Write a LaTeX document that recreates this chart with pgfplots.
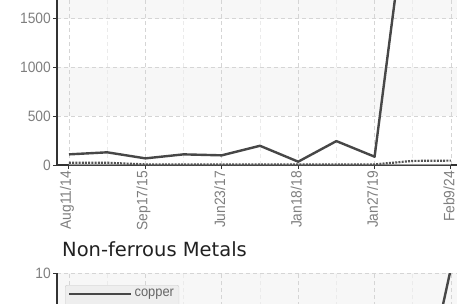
\documentclass[border=0pt]{standalone}
\usepackage{pgfplots}
\pgfplotsset{compat=1.18}
\usepackage{fontspec}
\setmainfont{Liberation Sans}
\newfontfamily\condfont[FakeStretch=0.92]{Liberation Sans}
\newfontfamily\titlefont{DejaVu Sans}
\definecolor{axisdark}{HTML}{333333}
\definecolor{ticktext}{HTML}{7E7E7E}
\definecolor{gridmaj}{HTML}{D5D5D5}
\definecolor{gridmin}{HTML}{EBEBEB}
\definecolor{band}{HTML}{F7F7F7}
\definecolor{seriesA}{HTML}{474747}
\definecolor{seriesB}{HTML}{555555}
\definecolor{seriesC}{HTML}{9A9A9A}
\definecolor{legfill}{HTML}{EEEEEE}
\definecolor{legdraw}{HTML}{CCCCCC}
\definecolor{legtext}{HTML}{666666}
\pgfplotsset{
  mystyle/.style={
    set layers,
    scale only axis,
    width=403pt,
    xmin=-0.314, xmax=10.236,
    axis lines*=left,
    axis line style={draw=axisdark, line width=1.2pt, -},
    xtick={0,2,...,10},
    minor xtick={1,3,...,9},
    xticklabels={Aug11/14,Sep17/15,Jun23/17,Jan18/18,Jan27/19,Feb9/24},
    tick align=outside,
    major tick length=4pt,
    minor tick length=0pt,
    tick style={draw=axisdark, line width=1pt},
    grid=both,
    major grid style={draw=gridmaj, dash pattern=on 4pt off 3pt, line width=0.9pt},
    minor grid style={draw=gridmin, dash pattern=on 4pt off 3pt, line width=0.9pt},
    tick label style={font=\fontsize{15pt}{17pt}\selectfont\condfont, text=ticktext},
    /pgf/number format/assume math mode=true,
    /pgf/number format/set thousands separator={},
    x tick label style={xshift=-2pt, rotate=90, anchor=east, inner sep=2pt},
    y tick label style={inner sep=2pt},
    clip=true,
  }
}
\begin{document}
\begin{tikzpicture}
% top chart
\begin{axis}[mystyle, at={(57pt,138pt)}, anchor=south west, height=165pt,
  ymin=0, ymax=1691, ytick={0,500,1000,1500,2000}]
\begin{pgfonlayer}{axis background}
\fill[band] (axis cs:-0.314,500) rectangle (axis cs:10.236,1000);
\fill[band] (axis cs:-0.314,1500) rectangle (axis cs:10.236,1691);
\end{pgfonlayer}
\addplot[color=seriesC, line width=1pt] coordinates {(0,4)(1,4)(2,4)(3,4)(4,4)(5,4)(6,4)(7,4)(8,4)(9,5)(10,5)};
\addplot[color=seriesB, line width=2.2pt, dash pattern=on 2pt off 1.2pt] coordinates {(0,23)(1,23)(2,6)(3,6)(4,6)(5,6)(6,6)(7,6)(8,6)(9,42)(10,45)};
\addplot[color=seriesA, line width=2.4pt, line join=round] coordinates {(0,109)(1,130)(2,68)(3,109)(4,99)(5,197)(6,34)(7,245)(8,85)(9,3115)(10,3000)};
\end{axis}
% bottom chart
\begin{axis}[mystyle, at={(57pt,-220pt)}, anchor=south west, height=250pt,
  ymin=0, ymax=10, ytick={0,2,...,10},
  title={Non-ferrous Metals},
  title style={font=\titlefont\fontsize{19.5pt}{22pt}\selectfont, text=black!87, at={(0,1)}, anchor=base west, xshift=5pt, yshift=11pt, inner sep=0pt},
  legend style={at={(0,1)}, anchor=north west, xshift=8pt, yshift=-12pt, fill=legfill, draw=legdraw, font=\condfont\fontsize{14pt}{16pt}\selectfont, text=legtext, rounded corners=2pt, inner xsep=3pt, inner ysep=2pt},
  legend cell align=left,
  legend image code/.code={\draw[#1] (0pt,0pt) -- (62pt,0pt);}]
\begin{pgfonlayer}{axis background}
\fill[band] (axis cs:-0.314,8) rectangle (axis cs:10.236,10);
\end{pgfonlayer}
\addplot[color=seriesA, line width=2.4pt, line join=round] coordinates {(0,3.0)(1,3.1)(2,2.4)(3,2.8)(4,3.0)(5,3.3)(6,3.1)(7,3.0)(8,2.9)(9,3.2)(10,10.2)};
\addlegendentry{copper}
\addlegendimage{empty legend}
\addlegendentry{}
\end{axis}
\pgfresetboundingbox
\path (0pt,0pt) rectangle (457pt,303pt);
\end{tikzpicture}
\end{document}
